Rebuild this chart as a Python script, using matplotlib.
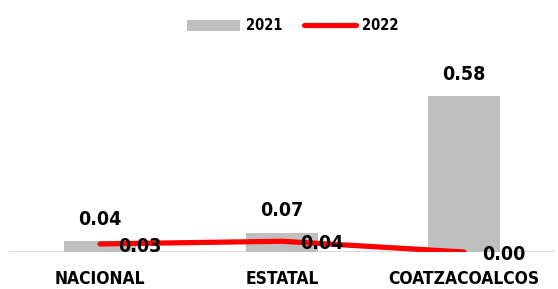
import matplotlib
matplotlib.use("Agg")
from matplotlib import pyplot as plt
import numpy as np

categories = ["NACIONAL", "ESTATAL", "COATZACOALCOS"]
values_2021 = [0.04, 0.07, 0.58]
values_2022 = [0.03, 0.04, 0.00]

font = dict(family="DejaVu Sans", fontstretch="condensed", fontweight="bold")

fig = plt.figure(figsize=(5.58, 2.89), dpi=100)
ax = fig.add_axes([9 / 558, 37 / 289, 546 / 558, 188 / 289])

x = np.arange(len(categories))
bars = ax.bar(x, values_2021, width=0.4, color="#bfbfbf", label="2021", zorder=2)
line, = ax.plot(x, values_2022, color="#ff0000", linewidth=3.75, solid_capstyle="round",
                label="2022", zorder=3)

# labels 2021 (above the bars)
for xi, v in zip(x, values_2021):
    ax.annotate(f"{v:.2f}", (xi, v), xytext=(0, 16), textcoords="offset points",
                ha="center", va="center", fontsize=14, color="black", **font)
# labels 2022 (right of the points)
for xi, v in zip(x, values_2022):
    ax.annotate(f"{v:.2f}", (xi, v), xytext=(29, -1.5), textcoords="offset points",
                ha="center", va="center", fontsize=14, color="black", zorder=4, **font)

ax.set_xlim(-0.5, 2.5)
ax.set_ylim(0, 0.7)
ax.axhline(0, color="#d9d9d9", linewidth=1.5, zorder=1)
ax.set_xticks(x)
ax.set_xticklabels(categories, fontsize=12.5, **font)
ax.tick_params(axis="x", length=0, pad=13)
ax.set_yticks([])
for s in ax.spines.values():
    s.set_visible(False)

leg = ax.legend([bars, line], ["2021", "2022"], loc="center",
                ncol=2, frameon=False, handlelength=3.6, handleheight=0.75,
                columnspacing=1.5, handletextpad=0.4,
                prop=dict(family="DejaVu Sans", stretch="condensed", weight="bold", size=10.5))
# legend centre at y = 26 px from the top of the figure
leg.set_bbox_to_anchor((293 / 558, 1 - 26 / 289), transform=fig.transFigure)

fig.savefig("out.png", dpi=100)
